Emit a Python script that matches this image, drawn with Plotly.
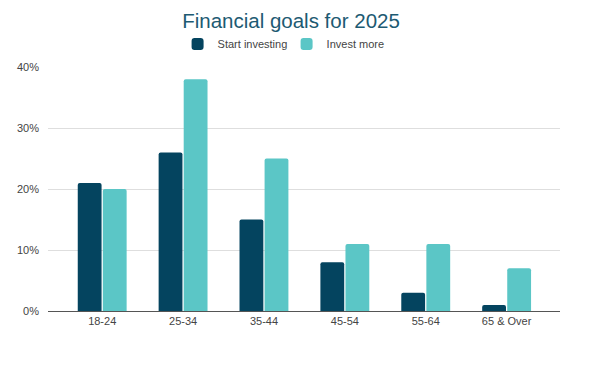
import plotly.graph_objects as go

categories = ["18-24", "25-34", "35-44", "45-54", "55-64", "65 & Over"]
start_investing = [21, 26, 15, 8, 3, 1]
invest_more = [20, 38, 25, 11, 11, 7]
tick_vals = [0, 10, 20, 30, 40]
tick_text = ["0%", "10%", "20%", "30%", "40%"]

fig = go.Figure()
fig.add_trace(go.Bar(x=categories, y=start_investing, name="Start investing",
                     marker_color="#04445f", marker_line_width=0))
fig.add_trace(go.Bar(x=categories, y=invest_more, name="Invest more",
                     marker_color="#5bc6c6", marker_line_width=0))

# page body has an 8px default margin; margins compensate for it
fig.update_layout(
    width=600, height=370,
    paper_bgcolor="white", plot_bgcolor="white",
    font=dict(family="Liberation Sans, Arial, sans-serif", size=11, color="#444444"),
    title=dict(text="Financial goals for 2025", x=0.4717, xanchor="center", y=0.965, yanchor="middle",
               font=dict(size=20.5, color="#1d5a72")),
    legend=dict(orientation="h", x=0.466, xanchor="center", y=1.094, yanchor="middle",
                font=dict(size=11, color="#444444"), itemwidth=30,
                entrywidth=64, entrywidthmode="pixels"),
    margin=dict(l=40, r=48, t=59, b=67, autoexpand=False),
    barmode="group", bargap=0.38, bargroupgap=0.05,
    barcornerradius=2,
    showlegend=True,
)
fig.update_xaxes(showgrid=False, showline=True, linecolor="#555555", linewidth=1,
                 range=[-0.67, 5.66],
                 ticks="", tickfont=dict(size=11, color="#444444"))
fig.update_yaxes(range=[0, 40], tickvals=tick_vals, ticktext=tick_text,
                 showgrid=True, gridcolor="#dedede", gridwidth=1, zeroline=False,
                 showline=False, ticks="", ticklabelstandoff=8,
                 tickfont=dict(size=11, color="#444444"))

fig.write_html("out.html")
